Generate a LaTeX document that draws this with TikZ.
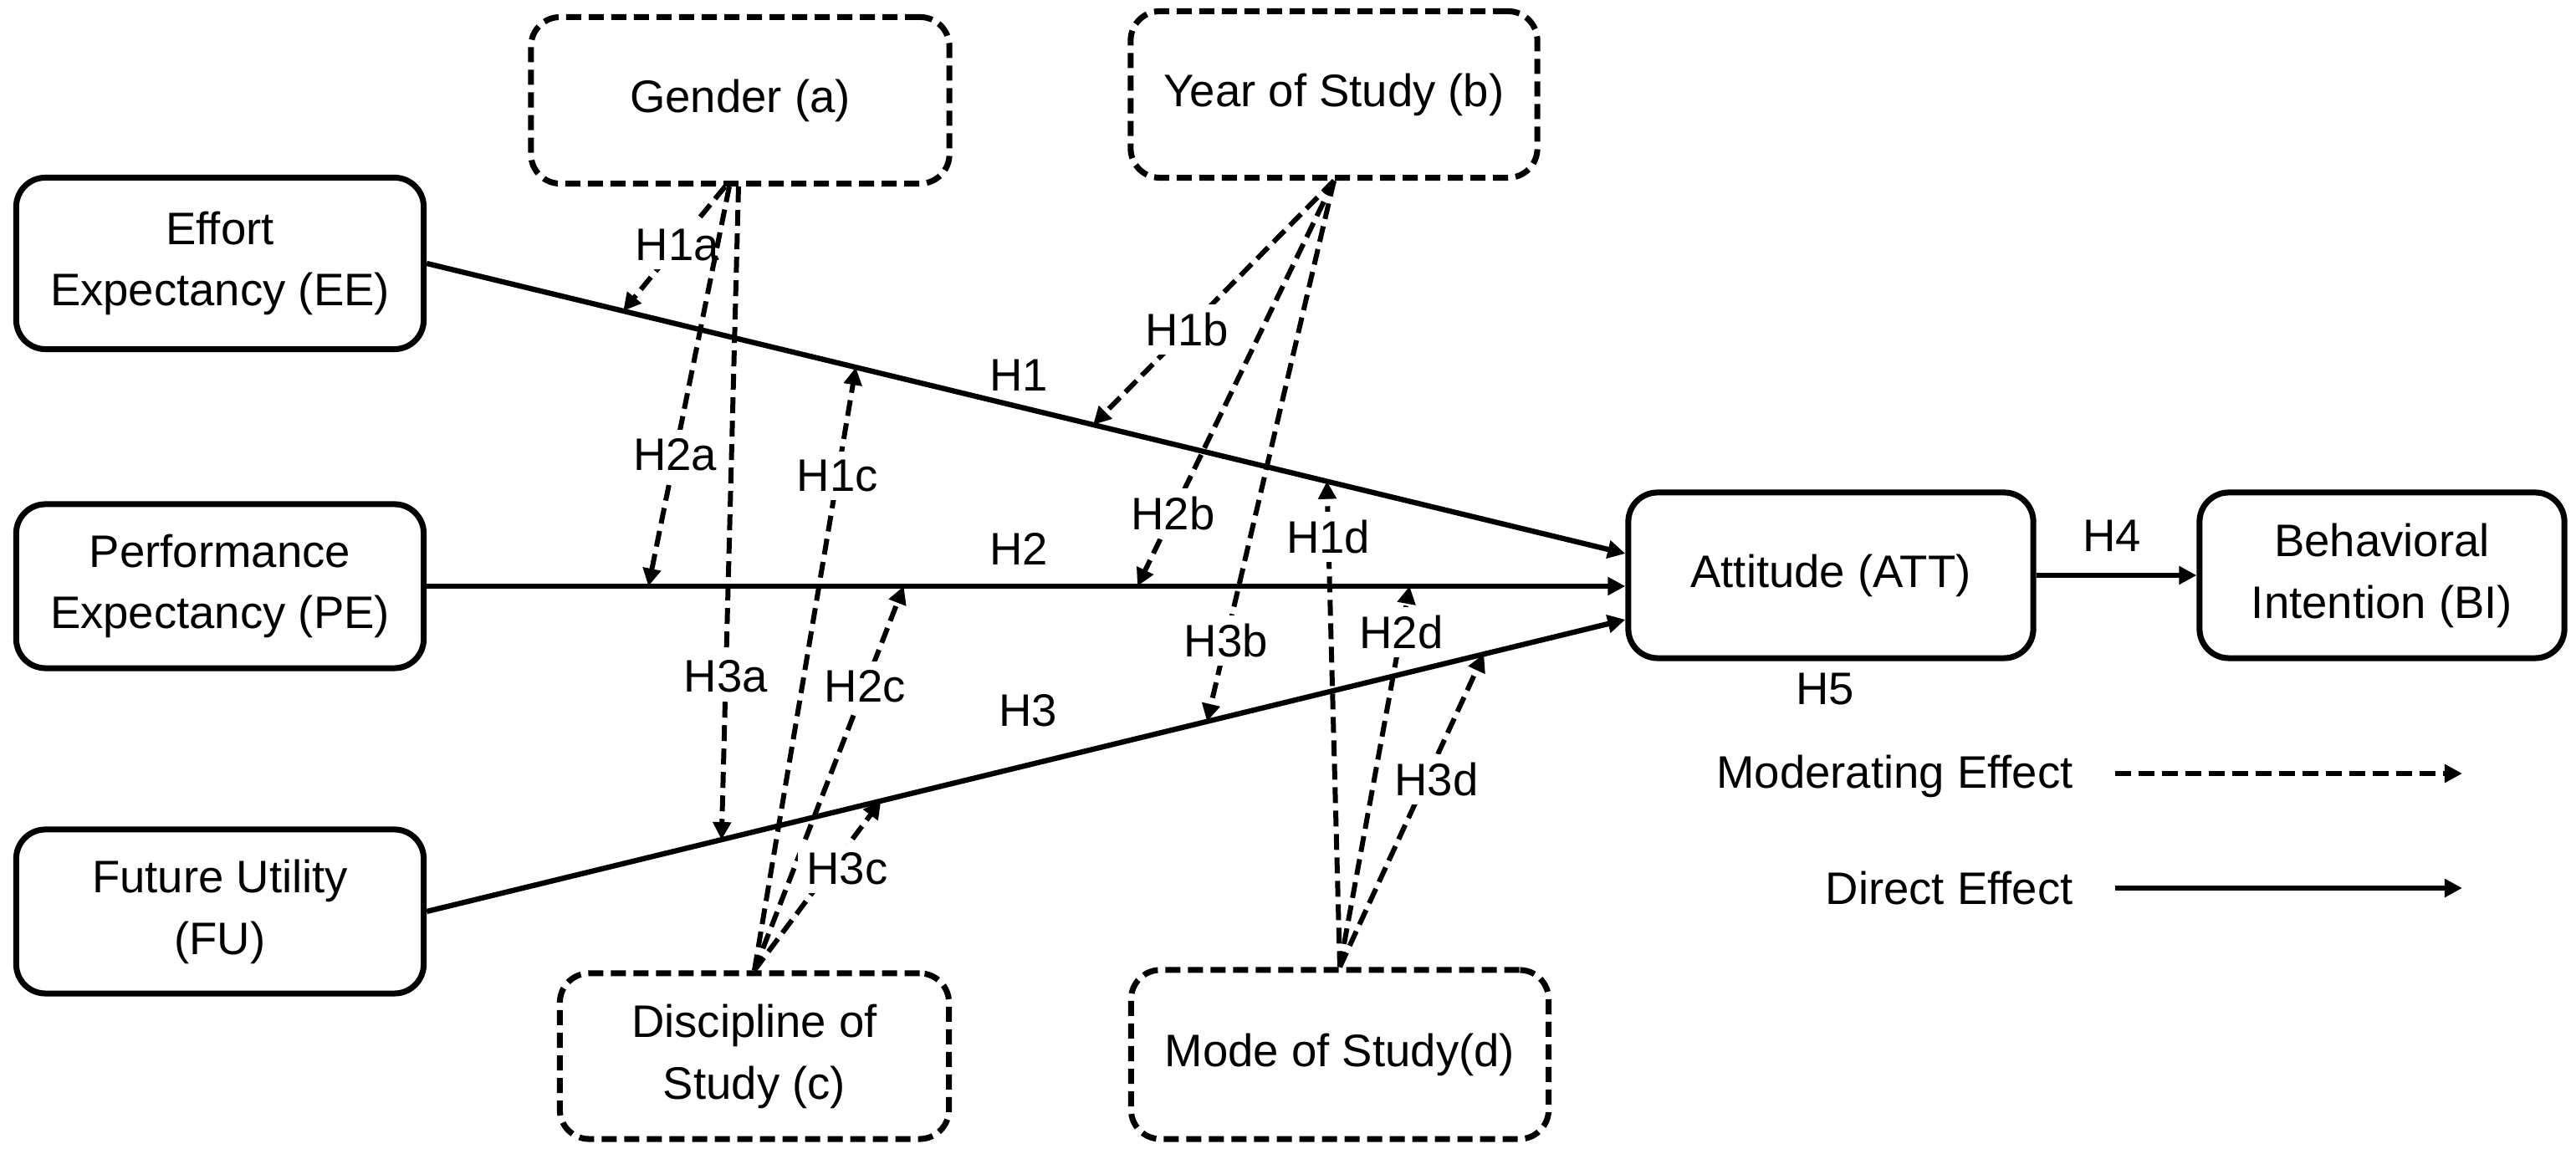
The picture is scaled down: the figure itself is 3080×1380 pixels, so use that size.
\documentclass[tikz,border=0pt]{standalone}
\usepackage{fontspec}
\setmainfont{Liberation Sans}
\usetikzlibrary{arrows.meta,calc}
\begin{document}
\begin{tikzpicture}[x=0.01cm,y=-0.01cm,
  every node/.style={font=\fontsize{15.5}{21}\selectfont},
  cbox/.style={draw,line width=2pt,rounded corners=0.35cm,align=center,inner sep=0pt},
  mbox/.style={draw,line width=2pt,dash pattern=on 0.18cm off 0.09cm,rounded corners=0.35cm,align=center,inner sep=0pt},
  direct/.style={line width=1.8pt,-{Triangle[length=6pt,width=6pt]}},
  moder/.style={line width=1.7pt,dash pattern=on 0.19cm off 0.09cm,-{Triangle[length=6pt,width=6pt]}},
  lab/.style={fill=white,inner sep=0.1cm},
  plab/.style={inner sep=0pt}
]
\useasboundingbox (0,0) rectangle (3080,1380);

% construct boxes
\node[cbox,minimum width=4.87cm,minimum height=2.05cm] (EE) at (263,315) {Effort\\Expectancy (EE)};
\node[cbox,minimum width=4.87cm,minimum height=1.96cm] (PE) at (263,701) {Performance\\Expectancy (PE)};
\node[cbox,minimum width=4.87cm,minimum height=1.96cm] (FU) at (263,1090) {Future Utility\\(FU)};
\node[cbox,minimum width=4.84cm,minimum height=1.98cm] (ATT) at (2189,688) {Attitude (ATT)};
\node[cbox,minimum width=4.36cm,minimum height=1.98cm] (BI) at (2848,688) {Behavioral\\Intention (BI)};

% moderator boxes
\node[mbox,minimum width=5.0cm,minimum height=1.99cm] (G) at (885,120) {Gender (a)};
\node[mbox,minimum width=4.86cm,minimum height=1.99cm] (Y) at (1595,113) {Year of Study (b)};
\node[mbox,minimum width=4.65cm,minimum height=1.98cm] (D) at (902,1263) {Discipline of\\Study (c)};
\node[mbox,minimum width=4.99cm,minimum height=2.02cm] (M) at (1602,1261) {Mode of Study(d)};

% end points on ATT
\coordinate (aEE) at ($(ATT.west)+(0,-26)$);
\coordinate (aFU) at ($(ATT.west)+(0,53)$);
\coordinate (aPE) at (PE.east -| ATT.west);

% direct effects
\draw[direct] (EE.east) -- (aEE)
  coordinate[pos=0.164] (t1a) coordinate[pos=0.358] (t1c)
  coordinate[pos=0.556] (t1b) coordinate[pos=0.751] (t1d);
\draw[direct] (PE.east) -- (aPE)
  coordinate[pos=0.185] (t2a) coordinate[pos=0.398] (t2c)
  coordinate[pos=0.593] (t2b) coordinate[pos=0.820] (t2d);
\draw[direct] (FU.east) -- (aFU)
  coordinate[pos=0.246] (t3a) coordinate[pos=0.379] (t3c)
  coordinate[pos=0.651] (t3b) coordinate[pos=0.882] (t3d);
\draw[direct] (ATT.east) -- (BI.west);

\node[plab] (H1) at (1218,449) {H1};
\node[plab] (H2) at (1218,656) {H2};
\node[plab] (H3) at (1229,850) {H3};
\node[plab] (H4) at (2525,641) {H4};
\node[plab] (H5) at (2182,824) {H5};

% moderating effects
\draw[moder] ($(G.south)+(-18,0)$) -- (t1a) node[lab,pos=0.47] {H1a};
\draw[moder] ($(G.south)+(-13,0)$) -- (t2a) node[lab,pos=0.67] {H2a};
\draw[moder] ($(G.south)+(-2,0)$) -- (t3a) node[lab,pos=0.75] {H3a};
\draw[moder] (Y.south) -- (t1b) node[lab,pos=0.61] {H1b};
\draw[moder] (Y.south) -- (t2b) node[lab,pos=0.82] {H2b};
\draw[moder] (Y.south) -- (t3b) node[lab,pos=0.85] {H3b};
\draw[moder] (D.north) -- (t1c) node[lab,pos=0.82] {H1c};
\draw[moder] (D.north) -- (t2c) node[lab,pos=0.74] {H2c};
\draw[moder] (D.north) -- (t3c) node[lab,pos=0.6,xshift=0.2cm] {H3c};
\draw[moder] (M.north) -- (t1d) node[lab,pos=0.885] {H1d};
\draw[moder] (M.north) -- (t2d) node[lab,pos=0.88] {H2d};
\draw[moder] (M.north) -- (t3d) node[lab,pos=0.6,xshift=0.12cm] {H3d};

% legend
\node[anchor=east] (LM) at (2491,928) {Moderating Effect};
\node[anchor=east] (LD) at (2491,1062) {Direct Effect};
\coordinate (lms) at (2529,925);
\coordinate (lme) at (2944,925);
\coordinate (lds) at (2529,1062);
\coordinate (lde) at (2944,1062);
\draw[moder] (lms) -- (lme);
\draw[direct] (lds) -- (lde);
\end{tikzpicture}
\end{document}
